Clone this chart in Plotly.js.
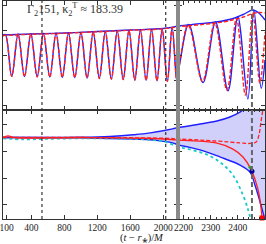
<!DOCTYPE html>
<html><head><meta charset="utf-8">
<script src="https://cdn.plot.ly/plotly-3.0.1.min.js"></script>
<style>html,body{margin:0;padding:0;background:#fff}#c{width:266px;height:244px}</style>
</head><body><div id="c"></div>
<script>
// ---- top panel: waveform extrema (time, strain) ----
const blueWaveT = [55, 84, 161, 238, 316, 393, 470, 546, 623, 699, 775, 850, 926, 1001, 1076, 1150, 1224, 1297, 1370, 1442, 1514, 1584, 1655, 1723, 1792, 1858, 1924, 1987, 2050, 2108, 2166, 2219, 2272, 2318, 2364, 2400, 2437, 2459, 2486, 2500];
const blueWaveH = [0.78, 0.82, -0.85, 0.84, -0.86, 0.85, -0.87, 0.86, -0.88, 0.87, -0.89, 0.88, -0.9, 0.9, -0.92, 0.92, -0.94, 0.94, -0.96, 0.96, -0.98, 0.98, -1.0, 1.0, -1.01, 1.02, -1.03, 1.04, -1.05, 1.1, -1.08, 1.22, -1.1, 1.32, -1.43, 1.53, -1.76, 1.8, -1.33, -0.2];
const redWaveT = [55, 84, 161, 238, 316, 393, 470, 546, 623, 699, 775, 850, 926, 1001, 1076, 1150, 1224, 1297, 1370, 1442, 1514, 1584, 1655, 1723, 1792, 1858, 1924, 1987, 2050, 2108, 2166, 2217, 2270, 2315, 2360, 2395, 2428, 2455, 2481, 2500];
const redWaveH = [0.76, 0.81, -0.85, 0.83, -0.86, 0.84, -0.87, 0.86, -0.88, 0.87, -0.89, 0.88, -0.9, 0.89, -0.92, 0.91, -0.94, 0.93, -0.96, 0.95, -0.98, 0.97, -1.0, 0.99, -1.01, 1.01, -1.03, 1.03, -1.05, 1.09, -1.07, 1.2, -1.06, 1.28, -1.4, 1.47, -1.6, 1.68, -1.12, 0.9];
const blueAmpT = [55, 400, 800, 1200, 1600, 2000, 2180, 2250, 2320, 2380, 2420, 2455, 2475, 2500];
const blueAmpV = [0.8, 0.84, 0.88, 0.94, 1.0, 1.06, 1.16, 1.24, 1.32, 1.45, 1.62, 1.8, 1.7, 1.4];
const redAmpT = [55, 400, 800, 1200, 1600, 2000, 2180, 2250, 2320, 2380, 2420, 2455, 2480, 2500];
const redAmpV = [0.78, 0.83, 0.87, 0.93, 0.99, 1.05, 1.14, 1.2, 1.28, 1.4, 1.52, 1.66, 1.7, 1.68];
// ---- bottom panel ----
const upperT = [55, 989, 1354, 1633, 1839, 2179, 2261, 2323, 2371, 2408, 2419, 2460, 2500];
const upperV = [0.5, 0.51, 0.54, 0.6, 0.67, 0.87, 1.0, 1.11, 1.26, 1.44, 1.52, 1.9, 2.4];
const lowerT = [55, 989, 1354, 1633, 1875, 2155, 2261, 2334, 2408, 2445, 2463, 2482, 2500];
const lowerV = [0.5, 0.49, 0.46, 0.44, 0.41, 0.26, 0.04, -0.22, -0.52, -0.78, -1.26, -1.89, -2.56];
const redT = [55, 115, 200, 1000, 1633, 2155, 2320, 2382, 2419, 2448, 2474, 2489];
const redV = [0.5, 0.56, 0.5, 0.5, 0.48, 0.41, 0.3, 0.07, -0.22, -0.67, -1.41, -2.44];
const redDashT = [55, 1000, 1633, 2155, 2320, 2408, 2445, 2467, 2478, 2485, 2492, 2500];
const redDashV = [0.5, 0.5, 0.49, 0.45, 0.37, 0.3, 0.28, 0.33, 0.6, 1.07, 1.52, 2.0];
const cyanT = [55, 300, 600, 1000, 1633, 1839, 2033, 2261, 2334, 2382, 2419, 2437, 2448];
const cyanV = [0.47, 0.43, 0.45, 0.47, 0.45, 0.41, 0.33, -0.04, -0.41, -0.89, -1.63, -2.15, -2.56];
const markerBlue = {t: 2452, v: -0.75};
const markerGreen = {t: 2445, v: -0.6};
const markerRed = {t: 2489, v: -2.48};
const vDotted = [528, 2030];
const vDashed = 2452;
const leftTicks = [100, 400, 800, 1200, 1600, 2000];
const rightTicks = [2200, 2300, 2400];

const BLUE = '#1f1fff', RED = '#ff2020', CYAN = '#19c8c8';
const traces = [];
function addTop(xa, ya) {
  traces.push({x: blueWaveT, y: blueWaveH, xaxis: xa, yaxis: ya, mode: 'lines', line: {color: BLUE, width: 1.4, shape: 'spline', smoothing: 1.0}});
  traces.push({x: redWaveT, y: redWaveH, xaxis: xa, yaxis: ya, mode: 'lines', line: {color: RED, width: 1.4, dash: '4px,2px', shape: 'spline', smoothing: 1.0}});
  traces.push({x: blueAmpT, y: blueAmpV, xaxis: xa, yaxis: ya, mode: 'lines', line: {color: BLUE, width: 1.4, shape: 'spline'}});
  traces.push({x: redAmpT, y: redAmpV, xaxis: xa, yaxis: ya, mode: 'lines', line: {color: RED, width: 1.4, dash: '4px,2px', shape: 'spline'}});
}
function addBottom(xa, ya) {
  traces.push({x: lowerT, y: lowerV, xaxis: xa, yaxis: ya, mode: 'lines', line: {color: BLUE, width: 1.4, shape: 'spline'}});
  traces.push({x: upperT, y: upperV, xaxis: xa, yaxis: ya, mode: 'lines', fill: 'tonexty', fillcolor: 'rgba(60,60,240,0.24)', line: {color: BLUE, width: 1.4, shape: 'spline'}});
  traces.push({x: cyanT, y: cyanV, xaxis: xa, yaxis: ya, mode: 'lines', line: {color: CYAN, width: 1.8, dash: 'dot', shape: 'spline'}});
  traces.push({x: redT, y: redV, xaxis: xa, yaxis: ya, mode: 'lines', line: {color: RED, width: 1.3, shape: 'spline'}});
  traces.push({x: redDashT, y: redDashV, xaxis: xa, yaxis: ya, mode: 'lines', line: {color: RED, width: 1.3, dash: '4px,2px', shape: 'spline'}});
}
addTop('x3', 'y'); addTop('x4', 'y3');
addBottom('x', 'y2'); addBottom('x2', 'y4');
traces.push({x: [markerGreen.t], y: [markerGreen.v], xaxis: 'x2', yaxis: 'y4', mode: 'markers', marker: {color: '#20a020', size: 3}});
traces.push({x: [markerBlue.t], y: [markerBlue.v], xaxis: 'x2', yaxis: 'y4', mode: 'markers', marker: {color: '#0000a0', size: 5}});
traces.push({x: [markerRed.t], y: [markerRed.v], xaxis: 'x2', yaxis: 'y4', mode: 'markers', marker: {color: '#ff0000', size: 5, symbol: 'square'}, cliponaxis: false});

const split = 175 / 262;
const ax = {showline: true, linecolor: '#333', linewidth: 1, mirror: 'allticks', ticks: 'inside', ticklen: 4, tickcolor: '#333', showgrid: false, zeroline: false,
  ticklabeloverflow: 'allow', tickfont: {family: 'Liberation Serif', size: 9.5, color: '#222'}};
const layout = {
  width: 266, height: 244, margin: {l: 3, r: 1, t: 1, b: 25}, showlegend: false,
  paper_bgcolor: '#fff', plot_bgcolor: '#fff',
  xaxis: Object.assign({}, ax, {domain: [0, split], range: [55, 2179], anchor: 'y2', tickmode: 'array', tickvals: leftTicks}),
  xaxis2: Object.assign({}, ax, {domain: [split, 1], range: [2180, 2500], anchor: 'y4', tickmode: 'array', tickvals: rightTicks, minor: {ticks: 'inside', dtick: 20, ticklen: 2, tickcolor: '#333'}}),
  xaxis3: Object.assign({}, ax, {domain: [0, split], range: [55, 2179], anchor: 'y', tickmode: 'array', tickvals: leftTicks, showticklabels: false}),
  xaxis4: Object.assign({}, ax, {domain: [split, 1], range: [2180, 2500], anchor: 'y3', tickmode: 'array', tickvals: rightTicks, showticklabels: false, minor: {ticks: 'inside', dtick: 20, ticklen: 2, tickcolor: '#333'}}),
  yaxis: Object.assign({}, ax, {domain: [0.5, 1], range: [-2.2, 2.16], anchor: 'x3', tickmode: 'array', tickvals: [-2, -1, 0, 1, 2], showticklabels: false}),
  yaxis3: Object.assign({}, ax, {domain: [0.5, 1], range: [-2.2, 2.16], anchor: 'x4', tickmode: 'array', tickvals: [-2, -1, 0, 1, 2], showticklabels: false}),
  yaxis2: Object.assign({}, ax, {domain: [0, 0.5], range: [-2.519, 1.519], anchor: 'x', tickmode: 'array', tickvals: [-2, -1, 0, 1], showticklabels: false}),
  yaxis4: Object.assign({}, ax, {domain: [0, 0.5], range: [-2.519, 1.519], anchor: 'x2', tickmode: 'array', tickvals: [-2, -1, 0, 1], showticklabels: false}),
  shapes: [
    {type: 'line', xref: 'x', yref: 'paper', x0: vDotted[0], x1: vDotted[0], y0: 0, y1: 1, line: {color: '#333', width: 1.2, dash: 'dot'}, layer: 'above'},
    {type: 'line', xref: 'x', yref: 'paper', x0: vDotted[1], x1: vDotted[1], y0: 0, y1: 1, line: {color: '#333', width: 1.2, dash: 'dot'}, layer: 'above'},
    {type: 'line', xref: 'x2', yref: 'paper', x0: vDashed, x1: vDashed, y0: 0, y1: 1, line: {color: '#666', width: 2, dash: '5px,3px'}, layer: 'above'},
    {type: 'line', xref: 'paper', yref: 'paper', x0: split, x1: split, y0: 0, y1: 1, line: {color: '#8a8a8a', width: 4}, layer: 'above'}
  ],
  annotations: [
    {xref: 'paper', yref: 'paper', x: (75 - 3) / 262, y: (219 - 9.5) / 218, xanchor: 'center', yanchor: 'middle', showarrow: false,
     text: 'Γ<sub>2</sub>151, κ<sub>2</sub><sup>T</sup> ≈ 183.39', font: {family: 'Liberation Serif', size: 12, color: '#333'}},
    {xref: 'paper', yref: 'paper', x: (142 - 3) / 262, y: (219 - 237.5) / 218, xanchor: 'center', yanchor: 'middle', showarrow: false, borderpad: 0,
     text: '(<i>t</i> − <i>r</i>⁎)/<i>M</i>', font: {family: 'Liberation Serif', size: 10.5, color: '#222'}}
  ]
};
Plotly.newPlot('c', traces, layout, {staticPlot: true, displayModeBar: false});
</script></body></html>
